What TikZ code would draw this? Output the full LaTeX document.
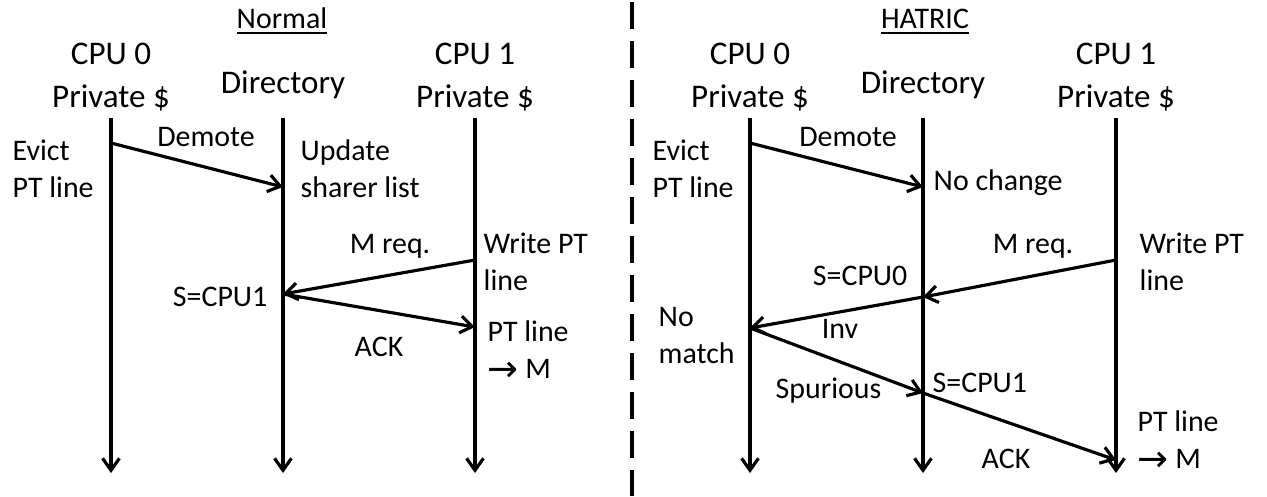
\documentclass[tikz,border=0pt]{standalone}
\usepackage{fontspec}
\setmainfont{Carlito}
\newfontfamily\arrowfont{DejaVu Sans}
\usetikzlibrary{arrows.meta}

\tikzset{
    head/.style={font=\fontsize{9.4}{12}\selectfont, align=center, inner sep=0pt},
    lbl/.style={font=\fontsize{8.5}{10.5}\selectfont, align=left, inner sep=0pt},
    msg/.style={line width=0.9pt, -{Straight Barb[length=3.4pt,width=4.8pt]}},
}
\newcommand{\tostate}{\raisebox{-1.1pt}{\arrowfont\fontsize{10.5}{10.5}\selectfont →}}

\begin{document}
\begin{tikzpicture}[x=0.01cm, y=-0.01cm]
    \useasboundingbox (0,0) rectangle (1267,496);

    % divider
    \coordinate (divtop) at (632,2);
    \coordinate (divbot) at (632,496);
    \draw [line width=1.2pt, dash pattern=on 0.27cm off 0.12cm] (divtop) -- (divbot);

    % ---- Normal ----
    \node (normal) [lbl, anchor=base] at (282,28) {\underline{Normal}};
    \node (n0) [head, anchor=base] at (111,107) {CPU 0\\Private \$};
    \node (nd) [head, anchor=base] at (283,93) {Directory};
    \node (n1) [head, anchor=base] at (475,107) {CPU 1\\Private \$};

    \coordinate (n0top) at (111,118); \coordinate (n0bot) at (111,473);
    \coordinate (ndtop) at (283,118); \coordinate (ndbot) at (283,473);
    \coordinate (n1top) at (475,118); \coordinate (n1bot) at (475,473);
    \draw [msg] (n0top) -- (n0bot);
    \draw [msg] (ndtop) -- (ndbot);
    \draw [msg] (n1top) -- (n1bot);

    \coordinate (na) at (111,143);
    \coordinate (nb) at (283,187);
    \coordinate (nc) at (475,260);
    \coordinate (nd2) at (283,294);
    \coordinate (ne) at (475,327);
    \draw [msg] (na) -- (nb);
    \draw [msg] (nc) -- (nd2);
    \draw [msg] (nd2) -- (ne);

    \node (nevict) [lbl, anchor=base west] at (12,197) {Evict\\PT line};
    \node (ndemote) [lbl, anchor=base] at (206,146) {Demote};
    \node (nupdate) [lbl, anchor=base west] at (300,197) {Update\\sharer list};
    \node (nmreq) [lbl, anchor=base] at (390,253) {M req.};
    \node (nwrite) [lbl, anchor=base west] at (483,290) {Write PT\\line};
    \node (nshare) [lbl, anchor=base east] at (268,306) {S=CPU1};
    \node (nack) [lbl, anchor=base] at (379,356) {ACK};
    \node (nptm) [lbl, anchor=base west] at (487,378) {PT line\\\tostate{} M};

    % ---- HATRIC ----
    \node (hatric) [lbl, anchor=base] at (925,28) {\underline{HATRIC}};
    \node (h0) [head, anchor=base] at (750,107) {CPU 0\\Private \$};
    \node (hd) [head, anchor=base] at (923,93) {Directory};
    \node (h1) [head, anchor=base] at (1116,107) {CPU 1\\Private \$};

    \coordinate (h0top) at (750,118); \coordinate (h0bot) at (750,473);
    \coordinate (hdtop) at (923,118); \coordinate (hdbot) at (923,473);
    \coordinate (h1top) at (1116,118); \coordinate (h1bot) at (1116,473);
    \draw [msg] (h0top) -- (h0bot);
    \draw [msg] (hdtop) -- (hdbot);
    \draw [msg] (h1top) -- (h1bot);

    \coordinate (ha) at (750,143);
    \coordinate (hb) at (923,187);
    \coordinate (hc) at (1116,260);
    \coordinate (hd2) at (923,297);
    \coordinate (he) at (750,328);
    \coordinate (hf) at (923,393);
    \coordinate (hg) at (1116,460);
    \draw [msg] (ha) -- (hb);
    \draw [msg] (hc) -- (hd2);
    \draw [msg] (hd2) -- (he);
    \draw [msg] (he) -- (hf);
    \draw [msg] (hf) -- (hg);

    \node (hevict) [lbl, anchor=base west] at (652,197) {Evict\\PT line};
    \node (hdemote) [lbl, anchor=base] at (848,146) {Demote};
    \node (hnochange) [lbl, anchor=base west] at (933,190) {No change};
    \node (hmreq) [lbl, anchor=base] at (1033,253) {M req.};
    \node (hwrite) [lbl, anchor=base west] at (1139,290) {Write PT\\line};
    \node (hshare0) [lbl, anchor=base east] at (908,285) {S=CPU0};
    \node (hinv) [lbl, anchor=base] at (840,338) {Inv};
    \node (hnomatch) [lbl, anchor=base west] at (658,363) {No\\match};
    \node (hspur) [lbl, anchor=base west] at (775,398) {Spurious};
    \node (hshare1) [lbl, anchor=base west] at (932,392) {S=CPU1};
    \node (hack) [lbl, anchor=base] at (1006,468) {ACK};
    \node (hptm) [lbl, anchor=base west] at (1137,468) {PT line\\\tostate{} M};
\end{tikzpicture}
\end{document}
